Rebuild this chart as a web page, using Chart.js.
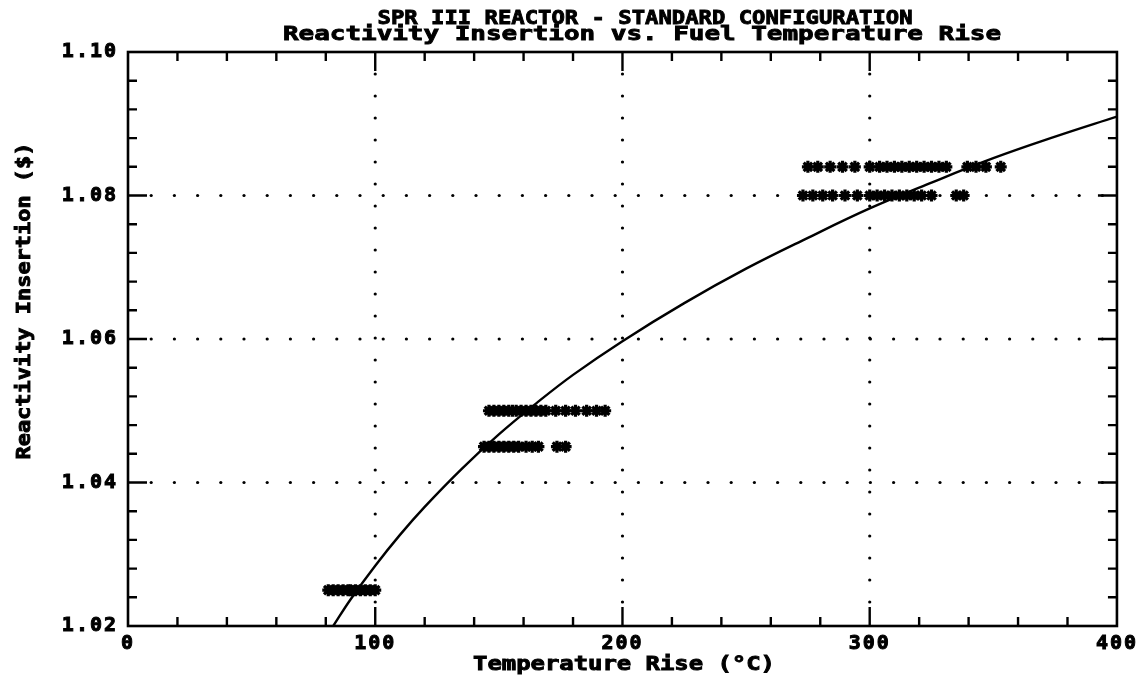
<!DOCTYPE html>
<html>
<head>
<meta charset="utf-8">
<title>SPR III Reactor - Reactivity Insertion</title>
<script src="https://cdn.jsdelivr.net/npm/chart.js@4/dist/chart.umd.min.js"></script>
<style>
  html, body { margin: 0; padding: 0; background: #fff; }
  #wrap { width: 1141px; height: 682px; }
</style>
</head>
<body>
<div id="wrap"><canvas id="chart" width="1141" height="682"></canvas></div>
<script>
// fuel temperature rise (deg C) of each pulse, grouped by inserted reactivity
const rhoLevels = [1.025, 1.045, 1.050, 1.080, 1.084];
const temps1025 = [81, 83, 85, 87, 89, 90, 92, 94, 96, 98, 100];
const temps1045 = [144, 146, 148, 150, 152, 154, 156, 158, 161, 163.5, 166, 173.5, 177];
const temps1050 = [146, 148, 150, 152, 154, 155.5, 157, 159, 161, 163, 165, 167, 169, 173, 177, 181, 185.5, 189.5, 193];
const temps1080 = [273, 277, 281, 285, 290, 295, 300, 303, 306, 309, 312, 315, 318, 321, 325, 335, 338];
const temps1084 = [275, 279, 284, 289, 294, 300, 304, 307, 310, 313, 316, 319, 322, 325, 328, 331, 339.5, 343, 347, 353];

// fitted curve
const fitTemp = [83, 90, 100, 110, 120, 135, 150, 165, 180, 200, 225, 250, 275, 300, 325, 350, 375, 400];
const fitRho = [1.0200, 1.0237, 1.0284, 1.0327, 1.0366, 1.0419, 1.0467, 1.0510, 1.0550, 1.0597,
                1.0650, 1.0698, 1.0741, 1.0782, 1.0818, 1.0852, 1.0882, 1.0910];

const xTicks = [0, 100, 200, 300, 400];
const yTicks = [1.02, 1.04, 1.06, 1.08, 1.10];
const yTickLabels = ['1.02', '1.04', '1.06', '1.08', '1.10'];

const titleLines = ['SPR III REACTOR - STANDARD CONFIGURATION', 'Reactivity Insertion vs. Fuel Temperature Rise'];
const xTitle = 'Temperature Rise (\u00B0C)';
const yTitle = 'Reactivity Insertion ($)';

const MONO = '"DejaVu Sans Mono", "Liberation Mono", monospace';

function pulsePoints(temps, rho) {
  return temps.map(t => ({ x: t, y: rho }));
}

const measured = [temps1025, temps1045, temps1050, temps1080, temps1084].map((temps, i) => ({
  type: 'scatter',
  data: pulsePoints(temps, rhoLevels[i]),
  pointStyle: 'star',
  pointRadius: 6,
  pointBorderWidth: 3.2,
  borderColor: '#000',
  backgroundColor: '#000',
  showLine: false
}));

const fitLine = {
  type: 'line',
  data: fitTemp.map((t, i) => ({ x: t, y: fitRho[i] })),
  borderColor: '#000',
  borderWidth: 2.4,
  pointRadius: 0,
  tension: 0.4,
  fill: false
};

// plotter style text: glyphs stretched sideways to fill a given width
function stretchedText(ctx, text, x, y, width, font) {
  ctx.save();
  ctx.font = font;
  ctx.letterSpacing = '0px';
  ctx.textAlign = 'left';
  ctx.textBaseline = 'alphabetic';
  const w = ctx.measureText(text).width;
  ctx.translate(x - width / 2, y);
  ctx.scale(width / w, 1);
  ctx.lineWidth = 0.9;
  ctx.strokeStyle = '#000';
  ctx.fillText(text, 0, 0);
  ctx.strokeText(text, 0, 0);
  ctx.restore();
}

const plotterFrame = {
  id: 'plotterFrame',
  beforeDraw(chart) {
    chart.ctx.letterSpacing = '2px';
  },
  beforeDatasetsDraw(chart) {
    const { ctx, chartArea: a, scales: { x, y } } = chart;
    ctx.save();
    ctx.fillStyle = '#000';
    // dotted grid on the major values inside the frame
    [100, 200, 300].forEach(v => {
      const px = x.getPixelForValue(v);
      for (let py = a.top + 22; py < a.bottom - 4; py += 22) {
        ctx.beginPath(); ctx.arc(px, py, 1.6, 0, Math.PI * 2); ctx.fill();
      }
    });
    [1.04, 1.06, 1.08].forEach(v => {
      const py = y.getPixelForValue(v);
      for (let px = a.left + 23.2; px < a.right - 4; px += 23.2) {
        ctx.beginPath(); ctx.arc(px, py, 1.6, 0, Math.PI * 2); ctx.fill();
      }
    });
    ctx.restore();
  },
  afterDatasetsDraw(chart) {
    const { ctx, chartArea: a, scales: { x, y } } = chart;
    ctx.save();
    ctx.strokeStyle = '#000';
    ctx.lineWidth = 2.6;
    ctx.strokeRect(a.left, a.top, a.right - a.left, a.bottom - a.top);
    ctx.lineWidth = 2.4;
    ctx.beginPath();
    // inward ticks: every 20 deg C, every 0.004 $
    for (let i = 1; i < 20; i++) {
      const len = i % 5 === 0 ? 19 : 9;
      const px = x.getPixelForValue(i * 20);
      ctx.moveTo(px, a.bottom); ctx.lineTo(px, a.bottom - len);
      ctx.moveTo(px, a.top); ctx.lineTo(px, a.top + len);
      const py = y.getPixelForValue(1.02 + i * 0.004);
      ctx.moveTo(a.left, py); ctx.lineTo(a.left + len, py);
      ctx.moveTo(a.right, py); ctx.lineTo(a.right - len, py);
    }
    ctx.stroke();
    ctx.restore();
  },
  afterDraw(chart) {
    const ctx = chart.ctx;
    ctx.save();
    ctx.fillStyle = '#000';
    stretchedText(ctx, titleLines[0], 645, 24, 535, 'bold 20px ' + MONO);
    stretchedText(ctx, titleLines[1], 642, 40, 718, 'bold 20px ' + MONO);
    stretchedText(ctx, xTitle, 624, 670, 302, 'bold 19px ' + MONO);
    ctx.translate(30, 301);
    ctx.rotate(-Math.PI / 2);
    stretchedText(ctx, yTitle, 0, 0, 317, 'bold 19px ' + MONO);
    ctx.restore();
  }
};

const ctx = document.getElementById('chart').getContext('2d');
new Chart(ctx, {
  data: { datasets: [fitLine, ...measured] },
  options: {
    responsive: false,
    animation: false,
    layout: { padding: { top: 52, right: 24, left: 0, bottom: 0 } },
    plugins: { legend: { display: false }, tooltip: { enabled: false } },
    scales: {
      x: {
        type: 'linear',
        min: 0,
        max: 400,
        afterBuildTicks: s => { s.ticks = xTicks.map(v => ({ value: v })); },
        afterFit: s => { s.height = 56; },
        grid: { display: false, drawTicks: false },
        border: { display: false },
        ticks: {
          color: '#000',
          padding: 6,
          maxRotation: 0,
          textStrokeColor: '#000',
          textStrokeWidth: 1,
          font: { family: MONO, weight: 'bold', size: 20 }
        }
      },
      y: {
        type: 'linear',
        min: 1.02,
        max: 1.10,
        afterBuildTicks: s => { s.ticks = yTicks.map(v => ({ value: v })); },
        afterFit: s => { s.width = 128; },
        grid: { display: false, drawTicks: false },
        border: { display: false },
        ticks: {
          color: '#000',
          padding: 10,
          textStrokeColor: '#000',
          textStrokeWidth: 1,
          font: { family: MONO, weight: 'bold', size: 20 },
          callback: (v, i) => yTickLabels[i]
        }
      }
    }
  },
  plugins: [plotterFrame]
});
</script>
</body>
</html>
